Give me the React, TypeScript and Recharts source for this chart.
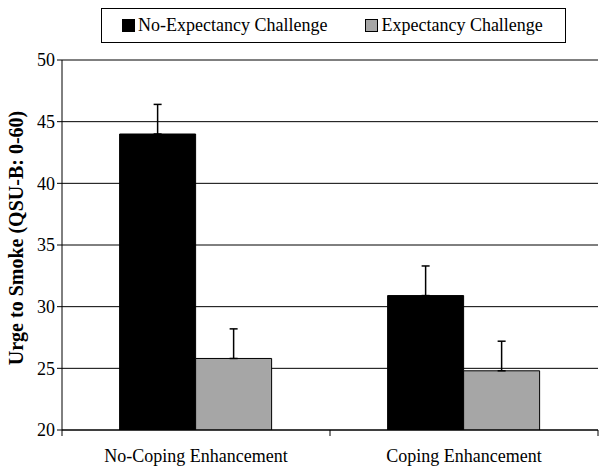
import React from "react";
import {
  Bar,
  BarChart,
  CartesianGrid,
  ErrorBar,
  XAxis,
  YAxis,
} from "recharts";

// Dados
const CONDITIONS = ["No-Coping Enhancement", "Coping Enhancement"];
const NO_EXPECTANCY = [44.0, 30.9];
const EXPECTANCY = [25.8, 24.8];
const NO_EXPECTANCY_SE = [2.4, 2.4];
const EXPECTANCY_SE = [2.4, 2.4];
const Y_TICKS = [20, 25, 30, 35, 40, 45, 50];

const SERIES = [
  { key: "noExp", name: "No-Expectancy Challenge", color: "#000000" },
  { key: "exp", name: "Expectancy Challenge", color: "#a6a6a6" },
];

const data = CONDITIONS.map((c, i) => ({
  condition: c,
  noExp: NO_EXPECTANCY[i],
  exp: EXPECTANCY[i],
  noExpErr: [0, NO_EXPECTANCY_SE[i]],
  expErr: [0, EXPECTANCY_SE[i]],
}));

const FONT = "Liberation Serif, serif";
const WIDTH = 605;
const HEIGHT = 473;
const MARGIN = { top: 60, right: 7, bottom: 0, left: 0 };
const X_HEIGHT = 43;
const Y_WIDTH = 62;
const BAND = (WIDTH - MARGIN.right - Y_WIDTH) / CONDITIONS.length;

const LegendBox = () => (
  <div
    style={{
      position: "absolute",
      top: 8,
      left: 101,
      width: 463,
      height: 33,
      border: "1px solid #000",
      display: "flex",
      alignItems: "center",
      fontFamily: FONT,
      fontSize: 18,
      color: "#000",
      boxSizing: "content-box",
    }}
  >
    {SERIES.map((s, i) => (
      <span
        key={s.key}
        style={{
          display: "flex",
          alignItems: "center",
          marginLeft: i === 0 ? 20 : 38,
        }}
      >
        <span
          style={{
            display: "inline-block",
            width: 11,
            height: 11,
            background: s.color,
            border: "1px solid #000",
            marginRight: 3,
          }}
        />
        {s.name}
      </span>
    ))}
  </div>
);

const CategoryTick = (props: any) => {
  const { x, y, payload, index } = props;
  const half = BAND / 2;
  return (
    <g>
      {index === 0 && (
        <line x1={x - half} y1={y - 8} x2={x - half} y2={y - 2} stroke="#000" />
      )}
      <line x1={x + half} y1={y - 8} x2={x + half} y2={y - 2} stroke="#000" />
      <text
        x={x}
        y={y + 24}
        textAnchor="middle"
        fontFamily={FONT}
        fontSize={18}
        fill="#000"
      >
        {payload.value}
      </text>
    </g>
  );
};

export default function App() {
  return (
    <div style={{ position: "absolute", top: 0, left: 0, background: "#fff" }}>
      <div style={{ position: "relative", width: WIDTH, height: HEIGHT }}>
        <BarChart
          width={WIDTH}
          height={HEIGHT}
          data={data}
          margin={MARGIN}
          barCategoryGap="21.5%"
          barGap={0}
        >
          <CartesianGrid vertical={false} stroke="#000" strokeWidth={1} />
          <XAxis
            dataKey="condition"
            height={X_HEIGHT}
            axisLine={{ stroke: "#000" }}
            tickLine={false}
            tick={<CategoryTick />}
            interval={0}
          />
          <YAxis
            domain={[20, 50]}
            ticks={Y_TICKS}
            width={Y_WIDTH}
            allowDataOverflow
            axisLine={{ stroke: "#000" }}
            tickLine={{ stroke: "#000" }}
            tickSize={5}
            tick={{ fill: "#000", fontFamily: FONT, fontSize: 18 }}
            label={{
              value: "Urge to Smoke (QSU-B: 0-60)",
              angle: -90,
              position: "insideLeft",
              dx: 11,
              dy: -7,
              style: {
                fontFamily: FONT,
                fontSize: 20,
                fontWeight: "bold",
                fill: "#000",
                textAnchor: "middle",
              },
            }}
          />
          <YAxis
            yAxisId="frame"
            orientation="right"
            width={0}
            tick={false}
            tickLine={false}
            axisLine={{ stroke: "#000" }}
          />
          {SERIES.map((s) => (
            <Bar
              key={s.key}
              dataKey={s.key}
              name={s.name}
              fill={s.color}
              stroke="#000"
              strokeWidth={1}
              isAnimationActive={false}
            >
              <ErrorBar
                dataKey={`${s.key}Err`}
                width={4}
                stroke="#000"
                strokeWidth={1.5}
                direction="y"
              />
            </Bar>
          ))}
        </BarChart>
        <LegendBox />
      </div>
    </div>
  );
}
